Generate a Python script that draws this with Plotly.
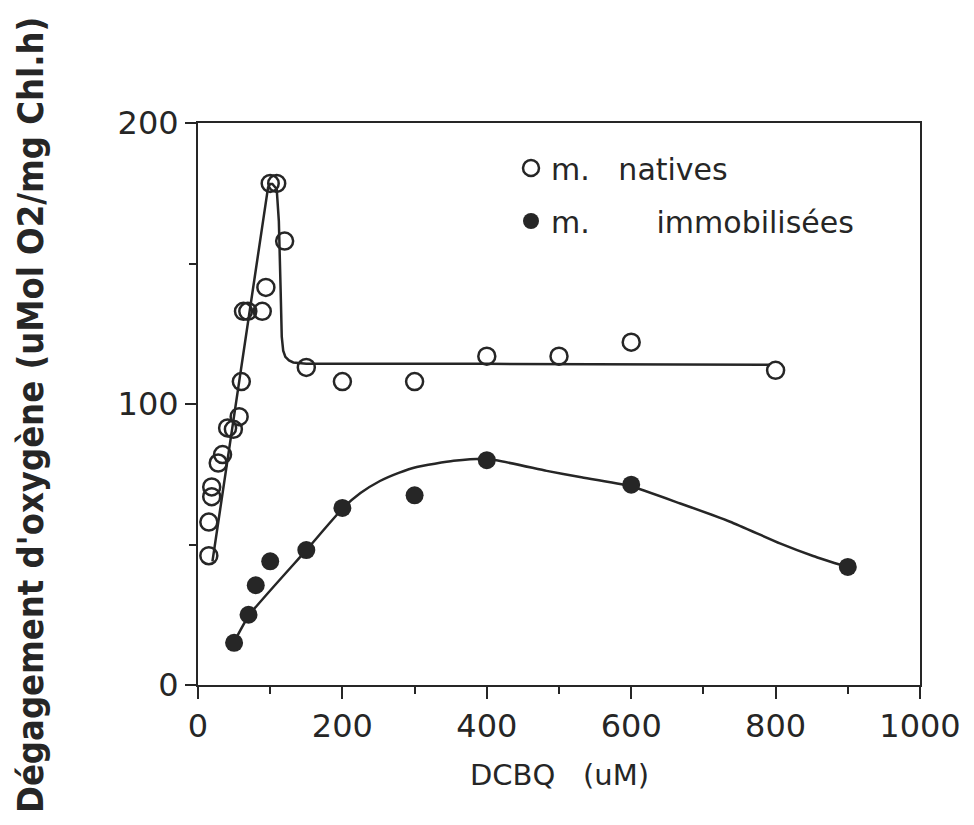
import plotly.graph_objects as go

# ---- data ----
natives_x = [15, 15, 19, 19, 28, 34, 41, 49, 57, 60, 63, 69, 89, 94, 100, 109, 120, 150, 200, 300, 400, 500, 600, 800]
natives_y = [46, 58, 67, 70.5, 79, 82, 91.5, 91, 95.5, 108, 133, 133, 133, 141.5, 178.5, 178.5, 158, 113, 108, 108, 117, 117, 122, 112]

natives_fit_x = [20, 97, 100, 103, 109, 112, 114.5, 116, 118, 121, 126, 132, 150, 400, 792]
natives_fit_y = [44, 177, 178.3, 178.3, 176.5, 165, 140, 124, 119, 116.8, 115.5, 114.8, 114.3, 114.3, 114]

immob_x = [50, 70, 80, 100, 150, 200, 300, 400, 600, 900]
immob_y = [15, 25, 35.5, 44, 48, 63, 67.5, 80, 71.3, 42]

immob_fit_x = [49, 71, 150, 201, 225, 252, 278, 303, 354, 400, 483, 529, 598, 668, 737, 806, 852, 899]
immob_fit_y = [14.8, 24.9, 48, 63, 68.3, 72.6, 75.5, 77.6, 79.8, 80.5, 76.2, 74, 70.8, 64.6, 58.1, 50.4, 45.9, 42]

x_ticks = [0, 200, 400, 600, 800, 1000]
y_ticks = [0, 100, 200]

legend_native = "m.\u00a0\u00a0\u00a0natives"
legend_immob = "m.\u00a0\u00a0\u00a0\u00a0\u00a0\u00a0\u00a0immobilisées"
x_title = "DCBQ\u00a0\u00a0\u00a0(uM)"
y_title = "Dégagement d'oxygène (uMol O2/mg Chl.h)"

INK = "#262626"

fig = go.Figure()

fig.add_trace(go.Scatter(
    x=natives_fit_x, y=natives_fit_y, mode="lines",
    line=dict(color=INK, width=2.5), showlegend=False, hoverinfo="skip"))
fig.add_trace(go.Scatter(
    x=immob_fit_x, y=immob_fit_y, mode="lines",
    line=dict(color=INK, width=2.5, shape="spline", smoothing=0.5),
    showlegend=False, hoverinfo="skip"))

fig.add_trace(go.Scatter(
    x=natives_x, y=natives_y, mode="markers", name=legend_native,
    legendgroup="a",
    marker=dict(symbol="circle-open", size=17, color=INK, line=dict(width=2.5, color=INK))))
fig.add_trace(go.Scatter(
    x=immob_x, y=immob_y, mode="markers", name=legend_immob,
    legendgroup="b",
    marker=dict(symbol="circle", size=18, color=INK, line=dict(width=0))))

OFF = 8  # page body margin
W, H = 958, 809
# target plot box in screenshot pixels: x 198..920, y 123..685
L = 198 - OFF
T = 123 - OFF
R = W - (920 - OFF)
B = H - (685 - OFF)
pw, ph = W - L - R, H - T - B

def px_x(p):
    return (p - OFF - L) / pw

def px_y(p):
    return (H - B - (p - OFF)) / ph

tick_font = dict(family="DejaVu Sans", size=32, color=INK)

fig.update_layout(
    width=W, height=H,
    margin=dict(l=L, r=R, t=T, b=B, autoexpand=False),
    paper_bgcolor="white", plot_bgcolor="white",
    showlegend=True,
    legend=dict(
        x=px_x(511), y=px_y(142), xanchor="left", yanchor="top",
        font=dict(family="DejaVu Sans", size=30, color=INK),
        bgcolor="rgba(0,0,0,0)", borderwidth=0,
        tracegroupgap=11, itemwidth=30),
    xaxis=dict(
        range=[0, 1000], tickvals=x_ticks, ticktext=[str(v) for v in x_ticks],
        showgrid=False, zeroline=False,
        showline=True, linecolor=INK, linewidth=2, mirror=True,
        ticks="outside", ticklen=12, tickwidth=2, tickcolor=INK,
        minor=dict(dtick=100, ticks="outside", ticklen=7, tickwidth=2, tickcolor=INK),
        tickfont=tick_font),
    yaxis=dict(
        range=[0, 200], tickvals=y_ticks, ticktext=[str(v) for v in y_ticks],
        showgrid=False, zeroline=False,
        showline=True, linecolor=INK, linewidth=2, mirror=True,
        ticks="outside", ticklen=11, tickwidth=2, tickcolor=INK,
        minor=dict(dtick=50, ticks="outside", ticklen=7, tickwidth=2, tickcolor=INK),
        tickfont=tick_font),
    annotations=[
        dict(text=x_title, xref="paper", yref="paper", x=px_x(559), y=px_y(775),
             xanchor="center", yanchor="middle", showarrow=False,
             font=dict(family="DejaVu Sans", size=29, color=INK)),
        dict(text=y_title, xref="paper", yref="paper", x=px_x(30), y=px_y(415),
             xanchor="center", yanchor="middle", showarrow=False, textangle=-90,
             font=dict(family="DejaVu Sans Condensed, DejaVu Sans", size=36, color=INK,
                       weight="bold")),
    ],
)

fig.write_html("out.html")
